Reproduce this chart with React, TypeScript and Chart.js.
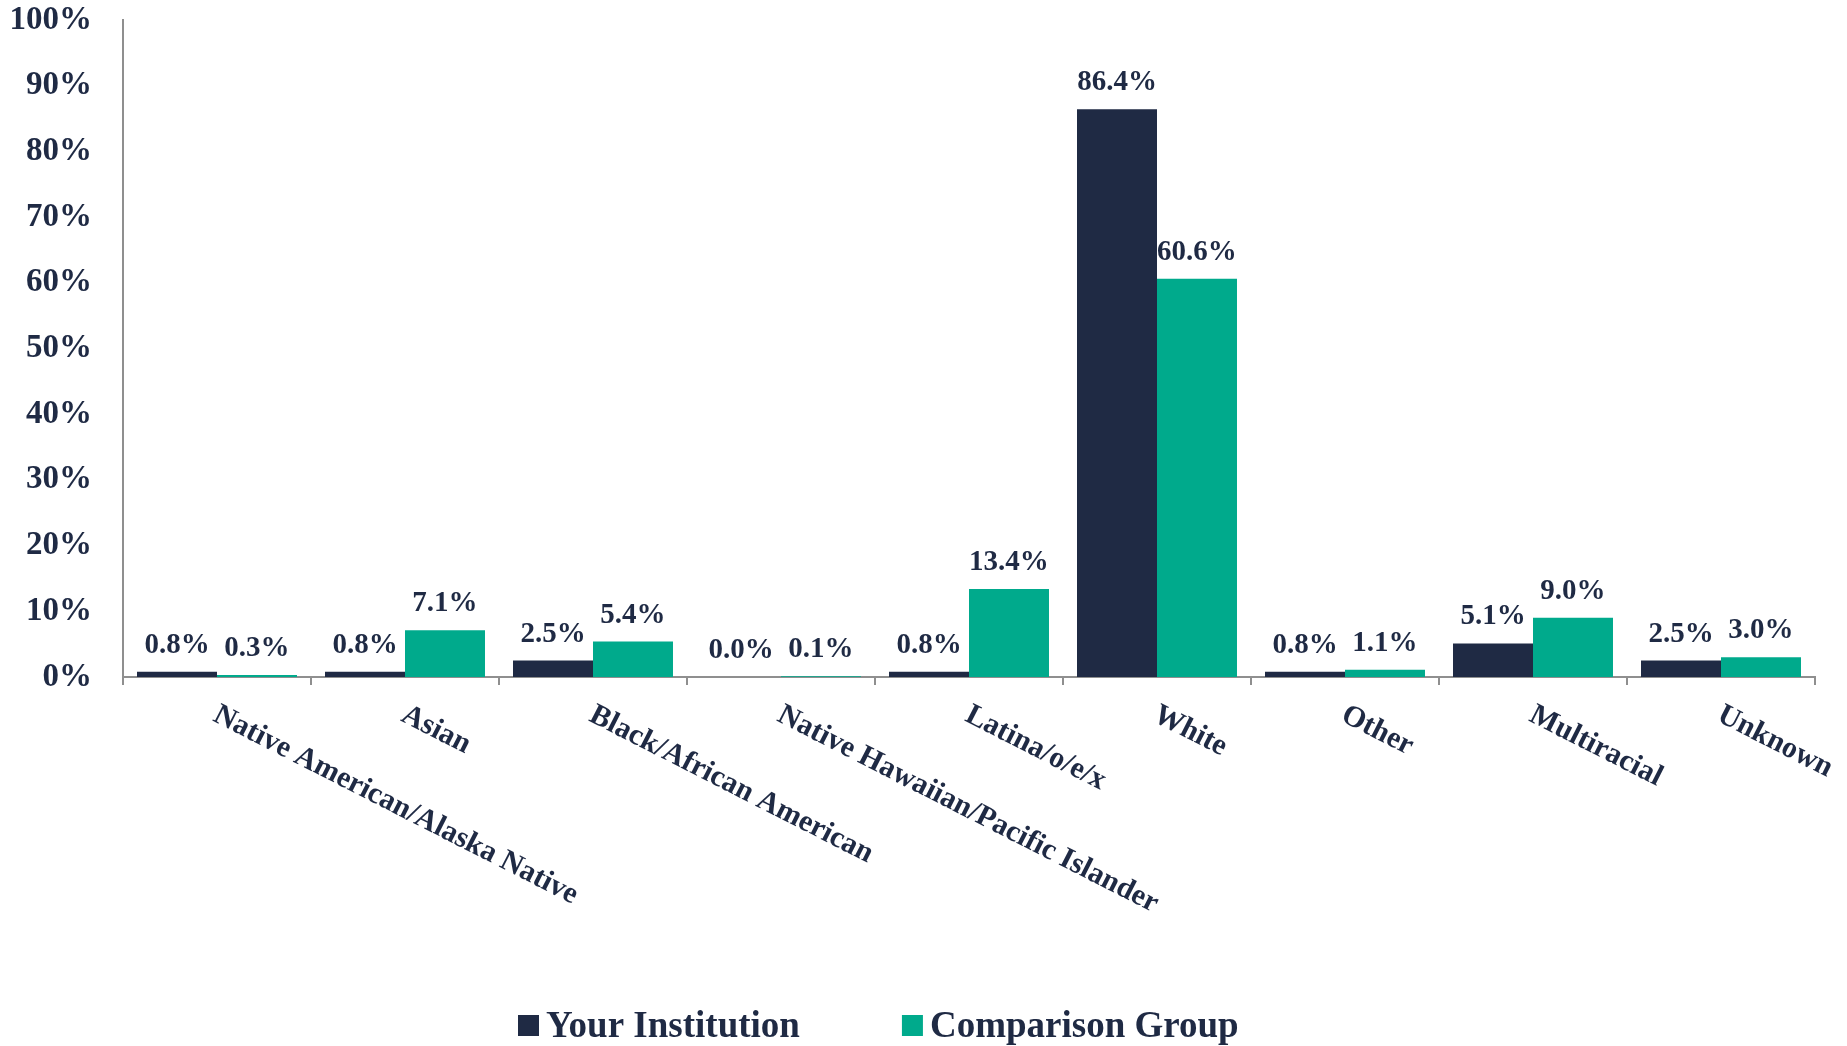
import React, { useEffect, useRef } from "react";
import { Chart, registerables } from "chart.js";

Chart.register(...registerables);

const categories = [
  "Native American/Alaska Native",
  "Asian",
  "Black/African American",
  "Native Hawaiian/Pacific Islander",
  "Latina/o/e/x",
  "White",
  "Other",
  "Multiracial",
  "Unknown",
];
const yourInstitution = [0.8, 0.8, 2.5, 0.0, 0.8, 86.4, 0.8, 5.1, 2.5];
const comparisonGroup = [0.3, 7.1, 5.4, 0.1, 13.4, 60.6, 1.1, 9.0, 3.0];
const seriesNames = ["Your Institution", "Comparison Group"];
const yTicks = [0, 10, 20, 30, 40, 50, 60, 70, 80, 90, 100];

const NAVY = "#1f2a44";
const GREEN = "#00aa8c";
const AXIS = "#8f8f8f";
const FONT = "'Liberation Serif', 'DejaVu Serif', serif";

const W = 1847;
const H = 1046;
const PLOT_BOTTOM = 677;

const valueLabels = {
  id: "valueLabels",
  afterDatasetsDraw(chart: any) {
    const ctx = chart.ctx;
    ctx.save();
    ctx.font = `bold 29px ${FONT}`;
    ctx.fillStyle = NAVY;
    ctx.textAlign = "center";
    ctx.textBaseline = "alphabetic";
    chart.data.datasets.forEach((ds: any, di: number) => {
      const meta = chart.getDatasetMeta(di);
      meta.data.forEach((bar: any, i: number) => {
        const v = ds.data[i] as number;
        ctx.fillText(v.toFixed(1) + "%", bar.x, bar.y - 19);
      });
    });
    ctx.restore();
  },
};

const rotatedXLabels = {
  id: "rotatedXLabels",
  afterDraw(chart: any) {
    const ctx = chart.ctx;
    const xs = chart.scales.x;
    ctx.save();
    ctx.font = `bold 30px ${FONT}`;
    ctx.fillStyle = NAVY;
    ctx.textAlign = "left";
    ctx.textBaseline = "top";
    (chart.data.labels as string[]).forEach((lab, i) => {
      const x = xs.getPixelForValue(i);
      ctx.save();
      ctx.translate(x + 5, chart.chartArea.bottom + 23);
      ctx.rotate((27 * Math.PI) / 180);
      ctx.fillText(lab, 0, 0);
      ctx.restore();
    });
    ctx.restore();
  },
};

const customLegend = {
  id: "customLegend",
  afterDraw(chart: any) {
    const ctx = chart.ctx;
    ctx.save();
    ctx.font = `bold 37px ${FONT}`;
    ctx.textAlign = "left";
    ctx.textBaseline = "alphabetic";
    const box = 21;
    const baseline = 1037;
    let x = 518;
    chart.data.datasets.forEach((ds: any) => {
      ctx.fillStyle = ds.backgroundColor;
      ctx.fillRect(x, baseline - box - 1, box, box);
      ctx.fillStyle = NAVY;
      const tx = x + box + 7;
      ctx.fillText(ds.label, tx, baseline);
      x = tx + ctx.measureText(ds.label).width + 102;
    });
    ctx.restore();
  },
};

export default function App() {
  const ref = useRef<HTMLCanvasElement | null>(null);
  useEffect(() => {
    if (!ref.current) return;
    const chart = new Chart(ref.current, {
      type: "bar",
      data: {
        labels: categories,
        datasets: [
          {
            label: seriesNames[0],
            data: yourInstitution,
            backgroundColor: NAVY,
            categoryPercentage: 0.851,
            barPercentage: 1.0,
          },
          {
            label: seriesNames[1],
            data: comparisonGroup,
            backgroundColor: GREEN,
            categoryPercentage: 0.851,
            barPercentage: 1.0,
          },
        ],
      },
      options: {
        responsive: false,
        animation: false,
        devicePixelRatio: 1,
        layout: { padding: { left: 0, right: 32, top: 20, bottom: 0 } },
        plugins: {
          legend: { display: false },
          tooltip: { enabled: false },
        },
        scales: {
          x: {
            grid: {
              display: true,
              drawOnChartArea: false,
              drawTicks: true,
              tickLength: 8,
              color: AXIS,
              lineWidth: 2,
              offset: true,
            },
            border: { display: true, color: AXIS, width: 2 },
            ticks: { display: false },
            afterFit: (s: any) => {
              s.height = s.chart.height - PLOT_BOTTOM;
              s.paddingLeft = 0;
              s.paddingRight = 0;
            },
          },
          y: {
            min: 0,
            max: 100,
            grid: { display: false, drawTicks: false },
            border: { display: true, color: AXIS, width: 2 },
            afterBuildTicks: (s: any) => {
              s.ticks = yTicks.map((v) => ({ value: v }));
            },
            ticks: {
              padding: 31,
              color: NAVY,
              font: { family: FONT, size: 33, weight: "bold" },
              callback: (v: any) => v + "%",
            },
            afterFit: (s: any) => {
              s.width = 123;
              s.paddingTop = 0;
              s.paddingBottom = 0;
            },
          },
        },
      },
      plugins: [valueLabels, rotatedXLabels, customLegend],
    });
    return () => chart.destroy();
  }, []);
  return (
    <div style={{ position: "fixed", left: 0, top: 0, width: W, height: H, background: "#fff" }}>
      <canvas ref={ref} width={W} height={H} style={{ display: "block", width: W, height: H }} />
    </div>
  );
}
